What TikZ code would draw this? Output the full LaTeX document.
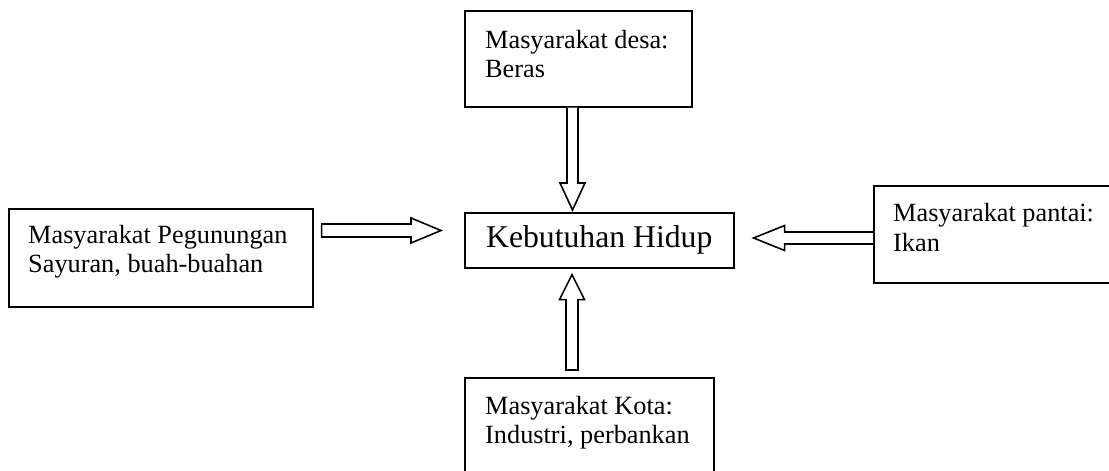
\documentclass[tikz,border=0pt]{standalone}
\usepackage{fontspec}
\setmainfont{Liberation Serif}
\usetikzlibrary{calc}

\tikzset{
  box/.style={draw, line width=1.6pt, fill=white, rectangle, inner sep=0pt, anchor=north west},
  txt/.style={inner sep=0pt, anchor=base west, font=\fontsize{26.3}{30}\selectfont},
  bigtxt/.style={inner sep=0pt, font=\fontsize{31.7}{36}\selectfont},
  blockarrow/.style={draw, line width=1.6pt, fill=white, line join=miter}
}

\begin{document}
\begin{tikzpicture}[x=1pt, y=-1pt]
  \useasboundingbox (0,0) rectangle (1109,471);
  \clip (0,0) rectangle (1109,471);

  % boxes
  \node[box, minimum width=227pt, minimum height=96pt] (desa) at (464,10) {};
  \node[box, minimum width=269pt, minimum height=55pt] (hidup) at (464,212) {};
  \node[box, minimum width=304pt, minimum height=98pt] (gunung) at (8,208) {};
  \node[box, minimum width=260pt, minimum height=97pt] (pantai) at (873,185) {};
  \node[box, minimum width=249pt, minimum height=110pt] (kota) at (464,377) {};

  % texts
  \node[bigtxt] (hiduptxt) at (hidup.center) {Kebutuhan Hidup};
  \node[txt] (desa1) at (485,48) {Masyarakat desa:};
  \node[txt] (desa2) at (485,77) {Beras};
  \node[txt] (gunung1) at (28,243) {Masyarakat Pegunungan};
  \node[txt] (gunung2) at (28,272) {Sayuran, buah-buahan};
  \node[txt] (pantai1) at (893,221) {Masyarakat pantai:};
  \node[txt] (pantai2) at (893,251) {Ikan};
  \node[txt] (kota1) at (485,414) {Masyarakat Kota:};
  \node[txt] (kota2) at (485,443) {Industri, perbankan};

  % hollow block arrows
  % desa -> hidup (downwards)
  \coordinate (ds) at (572.5,0 |- desa.south);
  \coordinate (dt) at ($(572.5,0 |- hidup.north)+(0,-2)$);
  \draw[blockarrow] ($(ds)+(-5.5,0)$) -- ($(dt)+(-5.5,-27)$) -- ($(dt)+(-12.5,-27)$)
    -- (dt) -- ($(dt)+(12.5,-27)$) -- ($(dt)+(5.5,-27)$) -- ($(ds)+(5.5,0)$);

  % kota -> hidup (upwards)
  \coordinate (ks) at ($(572,0 |- kota.north)+(0,-7)$);
  \coordinate (kt) at ($(572,0 |- hidup.south)+(0,6)$);
  \draw[blockarrow] ($(ks)+(-6,0)$) -- ($(kt)+(-6,25)$) -- ($(kt)+(-12.5,25)$)
    -- (kt) -- ($(kt)+(12.5,25)$) -- ($(kt)+(6,25)$) -- ($(ks)+(6,0)$) -- cycle;

  % gunung -> hidup (rightwards)
  \coordinate (gs) at ($(gunung.east |- 0,230.5)+(8,0)$);
  \coordinate (gt) at ($(hidup.west |- 0,230.5)+(-23,0)$);
  \draw[blockarrow] ($(gs)+(0,-6.5)$) -- ($(gt)+(-30,-6.5)$) -- ($(gt)+(-30,-12.5)$)
    -- (gt) -- ($(gt)+(-30,12.5)$) -- ($(gt)+(-30,6.5)$) -- ($(gs)+(0,6.5)$) -- cycle;

  % pantai -> hidup (leftwards)
  \coordinate (ps) at (pantai.west |- 0,238);
  \coordinate (pt) at ($(hidup.east |- 0,238)+(19,0)$);
  \draw[blockarrow] ($(ps)+(0,-6)$) -- ($(pt)+(31,-6)$) -- ($(pt)+(31,-12.5)$)
    -- (pt) -- ($(pt)+(31,12.5)$) -- ($(pt)+(31,6)$) -- ($(ps)+(0,6)$);
\end{tikzpicture}
\end{document}
